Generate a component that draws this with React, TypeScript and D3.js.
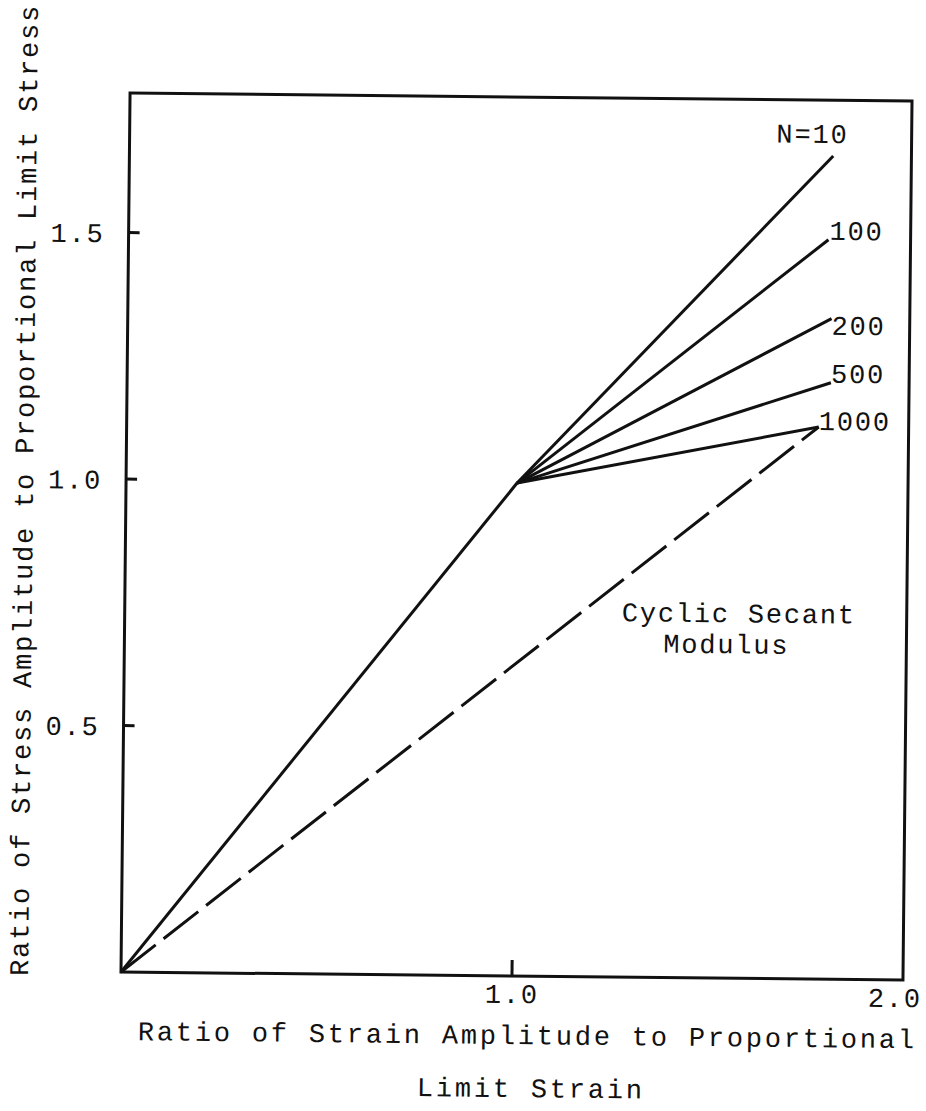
import React, { FC, useMemo } from "react";
import * as d3 from "d3";

// strain / stress ratios
const kneeStrain = [0, 1.0];
const kneeStress = [0, 1.0];
const cycleLabels = ["N=10", "100", "200", "500", "1000"];
const endStrain = [1.8, 1.79, 1.8, 1.8, 1.77];
const endStress = [1.67, 1.5, 1.34, 1.21, 1.12];
const secantStrain = [0, 1.77];
const secantStress = [0, 1.12];
const xTicks = [1.0, 2.0];
const xTickLabels = ["1.0", "2.0"];
const yTicks = [0.5, 1.0, 1.5];
const yTickLabels = ["0.5", "1.0", "1.5"];

// label nudges in px, relative to each line end
const labelOffsets = [
    [-57, -13],
    [1, 0],
    [0, 16],
    [0, 0],
    [0, 3],
];

const font = "'Liberation Mono', 'Courier New', monospace";
const fontSize = 27;
const spacing = 1.8; // typewriter pitch ~18px

const App: FC = () => {
    const width = 926;
    const height = 1111;
    const left = 121;
    const right = 903;
    const top = 93;
    const bottom = 972;

    const x = useMemo(() => d3.scaleLinear([0, 2], [left, right]), []);
    const y = useMemo(() => d3.scaleLinear([0, 1.783], [bottom, top]), []);

    const knee = d3.line()(
        kneeStrain.map((s, i) => [x(s), y(kneeStress[i])] as [number, number])
    );
    const secant = d3.line()(
        secantStrain.map((s, i) => [x(s), y(secantStress[i])] as [number, number])
    );

    return (
        <svg
            width={width}
            height={height}
            style={{ position: "absolute", left: 0, top: 0, background: "#fff" }}
        >
            {/* the scan is slightly rotated */}
            <g
                transform={`rotate(0.59, ${left}, ${bottom})`}
                fontFamily={font}
                fontSize={fontSize}
                letterSpacing={spacing}
                fill="#111"
            >
                <rect
                    x={left}
                    y={top}
                    width={right - left}
                    height={bottom - top}
                    fill="none"
                    stroke="#111"
                    strokeWidth={3}
                />
                {xTicks.map((t, i) => (
                    <g key={`xt${i}`}>
                        {t < 2 && (
                            <line
                                x1={x(t)}
                                x2={x(t)}
                                y1={bottom}
                                y2={bottom - 16}
                                stroke="#111"
                                strokeWidth={3}
                            />
                        )}
                        <text
                            x={x(t) + (t === 2 ? -8 : 0)}
                            y={bottom + 27}
                            textAnchor="middle"
                        >
                            {xTickLabels[i]}
                        </text>
                    </g>
                ))}
                {yTicks.map((t, i) => (
                    <g key={`yt${i}`}>
                        <line
                            x1={left}
                            x2={left + 11}
                            y1={y(t)}
                            y2={y(t)}
                            stroke="#111"
                            strokeWidth={3}
                        />
                        <text x={left - 24} y={y(t) + 10} textAnchor="end">
                            {yTickLabels[i]}
                        </text>
                    </g>
                ))}

                <path d={knee || ""} fill="none" stroke="#111" strokeWidth={3} />
                {cycleLabels.map((c, i) => (
                    <g key={c}>
                        <line
                            x1={x(kneeStrain[1])}
                            y1={y(kneeStress[1])}
                            x2={x(endStrain[i])}
                            y2={y(endStress[i])}
                            stroke="#111"
                            strokeWidth={3}
                        />
                        <text
                            x={x(endStrain[i]) + labelOffsets[i][0]}
                            y={y(endStress[i]) + labelOffsets[i][1]}
                        >
                            {c}
                        </text>
                    </g>
                ))}
                <path
                    d={secant || ""}
                    fill="none"
                    stroke="#111"
                    strokeWidth={3}
                    strokeDasharray="44 10"
                />

                <text x={618} y={616}>
                    Cyclic Secant
                </text>
                <text x={660} y={647}>
                    Modulus
                </text>

                <g letterSpacing={2.8}>
                    <text x={528} y={1040} textAnchor="middle">
                        Ratio of Strain Amplitude to Proportional
                    </text>
                    <text x={532} y={1093} textAnchor="middle">
                        Limit Strain
                    </text>
                </g>
                <text transform={`translate(28, 491) rotate(-90)`} textAnchor="middle">
                    Ratio of Stress Amplitude to Proportional Limit Stress
                </text>
            </g>
        </svg>
    );
};

export default App;
